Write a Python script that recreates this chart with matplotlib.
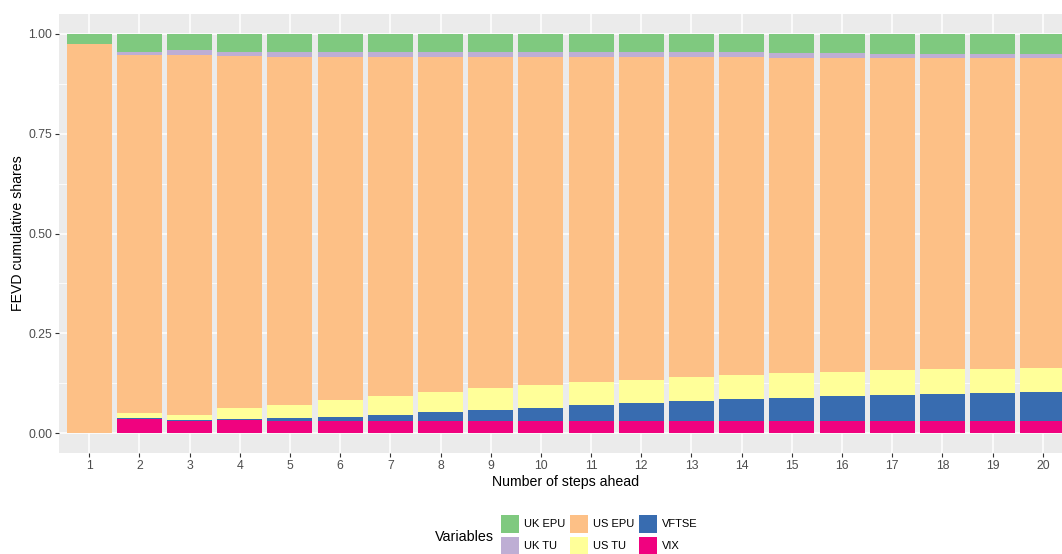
import matplotlib
matplotlib.use("Agg")
import matplotlib.pyplot as plt
from matplotlib.patches import Rectangle
import numpy as np

plt.rcParams['font.family'] = ['Liberation Sans', 'DejaVu Sans']

steps = list(range(1, 21))
variables = ["UK EPU", "UK TU", "US EPU", "US TU", "VFTSE", "VIX"]
colors = {"UK EPU": "#7FC97F", "UK TU": "#BEAED4", "US EPU": "#FDC086",
          "US TU": "#FFFF99", "VFTSE": "#386CB0", "VIX": "#F0027F"}

vix = [0.000, 0.035, 0.029, 0.032, 0.031, 0.031, 0.030, 0.031, 0.030, 0.030,
       0.030, 0.030, 0.030, 0.030, 0.030, 0.030, 0.030, 0.030, 0.030, 0.030]
vftse = [0.000, 0.003, 0.003, 0.004, 0.006, 0.010, 0.016, 0.021, 0.027, 0.034,
         0.040, 0.045, 0.050, 0.056, 0.059, 0.063, 0.066, 0.069, 0.071, 0.074]
us_tu = [0.000, 0.013, 0.014, 0.028, 0.034, 0.042, 0.048, 0.051, 0.055, 0.057,
         0.058, 0.059, 0.060, 0.060, 0.061, 0.061, 0.061, 0.061, 0.060, 0.060]
uk_tu = [0.000, 0.008, 0.013, 0.011, 0.012, 0.012, 0.012, 0.012, 0.012, 0.012,
         0.012, 0.012, 0.012, 0.012, 0.012, 0.012, 0.012, 0.011, 0.011, 0.011]
uk_epu = [0.024, 0.044, 0.040, 0.045, 0.046, 0.046, 0.045, 0.045, 0.045, 0.045,
          0.045, 0.045, 0.045, 0.046, 0.047, 0.047, 0.049, 0.050, 0.050, 0.050]
us_epu = [1 - a - b - c - d - e for a, b, c, d, e in zip(vix, vftse, us_tu, uk_tu, uk_epu)]

stack_order = [("VIX", vix), ("VFTSE", vftse), ("US TU", us_tu),
               ("US EPU", us_epu), ("UK TU", uk_tu), ("UK EPU", uk_epu)]

fig = plt.figure(figsize=(10.62, 5.54), dpi=100)
ax = fig.add_axes([59 / 1062, (554 - 453) / 554, (1073 - 59) / 1062, (453 - 14) / 554])
ax.set_facecolor("#EBEBEB")

x = np.array(steps)
bottom = np.zeros(len(steps))
for name, vals in stack_order:
    v = np.array(vals)
    ax.bar(x, v, width=0.9, bottom=bottom, color=colors[name], linewidth=0, zorder=3)
    bottom += v

ax.set_xlim(0.4, 20.6)
ax.set_ylim(-0.05, 1.05)
yt = [0.0, 0.25, 0.5, 0.75, 1.0]
ax.set_yticks(yt)
ax.set_yticklabels(["0.00", "0.25", "0.50", "0.75", "1.00"])
ax.set_yticks([0.125, 0.375, 0.625, 0.875], minor=True)
ax.set_xticks(x)
ax.set_xticklabels([str(s) for s in steps])
ax.grid(True, which="major", color="white", linewidth=1.1, zorder=0)
ax.grid(True, which="minor", axis="y", color="white", linewidth=0.55, zorder=0)
ax.tick_params(which="major", length=3.0, width=0.8, color="#333333",
               labelcolor="#4D4D4D", labelsize=8.8, pad=2)
ax.tick_params(which="minor", length=0)
for s in ax.spines.values():
    s.set_visible(False)
ax.set_xlabel("Number of steps ahead", fontsize=10.2, color="black", labelpad=2)
ax.set_ylabel("FEVD cumulative shares", fontsize=10.2, color="black")
ax.yaxis.set_label_coords(-(59 - 25) / 1014, 0.5)

# legend (bottom, ggplot-style: title left, 2 rows x 3 columns)
W, H = 1062, 554
fig.text(435 / W, 1 - 537 / H, "Variables", fontsize=10.3, ha="left", va="center")
key = 18
cols_x = [501, 570, 639]
rows_y = [515, 537]
legend_layout = [["UK EPU", "UK TU"], ["US EPU", "US TU"], ["VFTSE", "VIX"]]
for ci, col in enumerate(legend_layout):
    for ri, name in enumerate(col):
        x0 = cols_x[ci]
        y0 = rows_y[ri]
        fig.add_artist(Rectangle((x0 / W, 1 - (y0 + key) / H), key / W, key / H,
                                 transform=fig.transFigure, facecolor=colors[name],
                                 edgecolor="none"))
        fig.text((x0 + key + 5) / W, 1 - (y0 + key / 2) / H, name, fontsize=8.0,
                 ha="left", va="center")

fig.savefig("out.png", dpi=100)
